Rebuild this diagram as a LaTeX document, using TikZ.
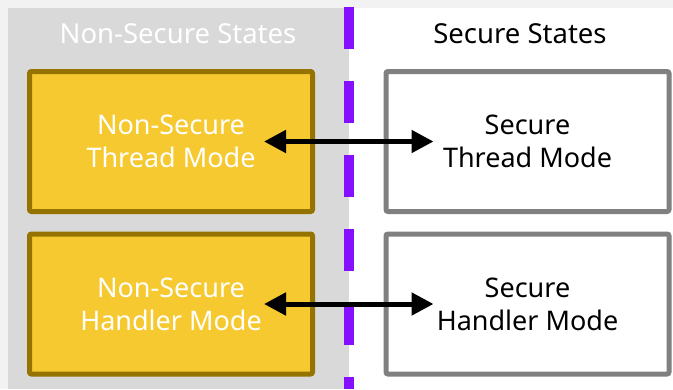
\documentclass[tikz,border=0pt]{standalone}
\usepackage{fontspec}
\setmainfont{Noto Sans}
\usetikzlibrary{arrows.meta}
\definecolor{pagebg}{HTML}{F2F2F2}
\definecolor{panelgray}{HTML}{D9D9D9}
\definecolor{modeyellow}{HTML}{F7C930}
\definecolor{modeedge}{HTML}{957300}
\definecolor{secedge}{HTML}{808080}
\definecolor{divider}{HTML}{8510FF}
\tikzset{
  title/.style={font=\fontsize{27.5}{32}\selectfont, inner sep=0pt},
  modebox/.style={rectangle, rounded corners=2pt, line width=5pt,
    minimum width=283pt, minimum height=140pt, align=center,
    font=\fontsize{27}{33}\selectfont},
  nsbox/.style={modebox, draw=modeedge, fill=modeyellow, text=white},
  sbox/.style={modebox, draw=secedge, fill=white, text=black},
  switch/.style={line width=5pt, {Triangle[length=22pt,width=22pt]}-{Triangle[length=22pt,width=22pt]},
    shorten <=93pt, shorten >=94pt},
  boundary/.style={draw=divider, line width=10pt, dash pattern=on 42pt off 32pt}
}
\begin{document}
\begin{tikzpicture}[x=1pt,y=-1pt]
  % canvas and the two state panels
  \fill[pagebg] (0,0) rectangle (673,389);
  \useasboundingbox (0,0) rectangle (673,389);
  \fill[panelgray] (8,8) rectangle (349,389);
  \fill[white] (349,8) rectangle (673,389);

  % panel headings
  \node[title, text=white] (nstitle) at (178,34) {Non-Secure States};
  \node[title, text=black] (stitle) at (520,34) {Secure States};

  % security boundary
  \coordinate (divtop) at (349,7);
  \coordinate (divbot) at (349,389);
  \draw[boundary] (divtop) -- (divbot);

  % processor modes
  \node[nsbox] (nsthread) at (171,141.5) {Non-Secure\\Thread Mode};
  \node[nsbox] (nshandler) at (171,304) {Non-Secure\\Handler Mode};
  \node[sbox] (sthread) at (527.5,141.5) {Secure\\Thread Mode};
  \node[sbox] (shandler) at (527.5,304) {Secure\\Handler Mode};

  % transitions between the states
  \draw[switch] (nsthread.center) -- (sthread.center);
  \draw[switch] (nshandler.center) -- (shandler.center);
\end{tikzpicture}
\end{document}
